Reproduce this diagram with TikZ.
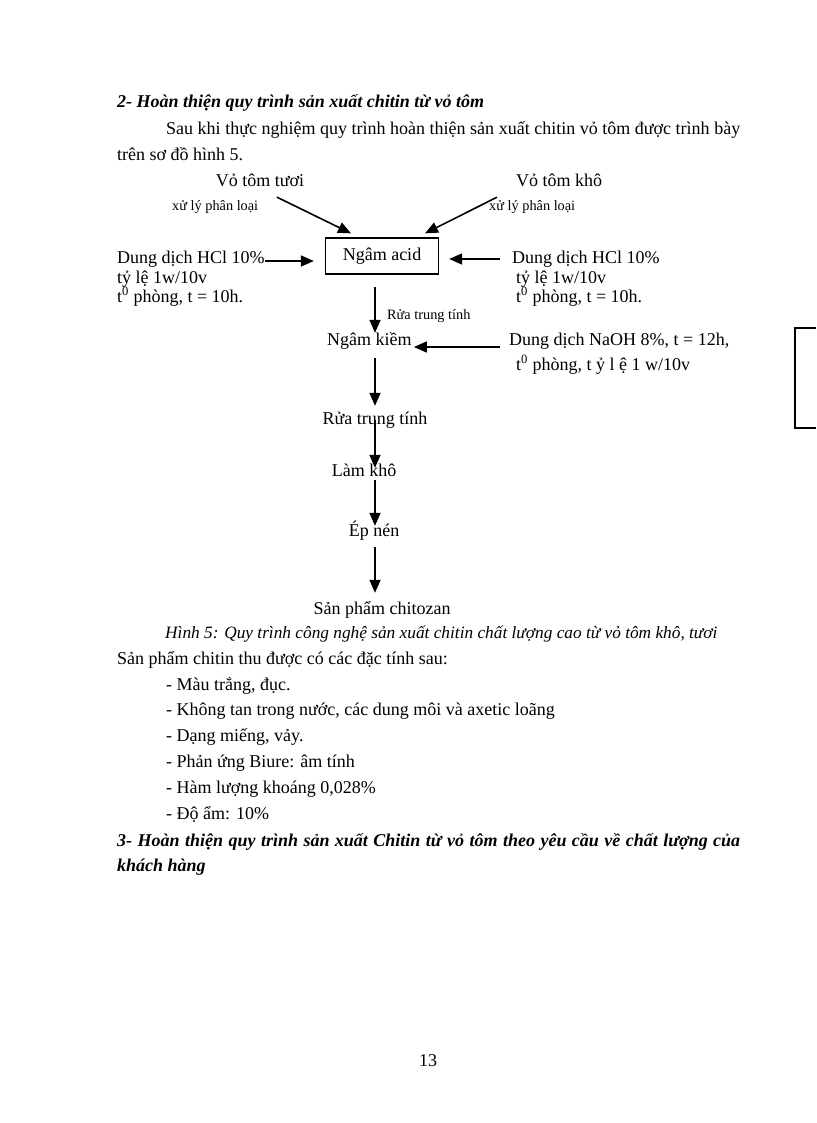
\documentclass[tikz,border=0pt]{standalone}
\usepackage{fontspec}
\setmainfont{Liberation Serif}
\usetikzlibrary{arrows.meta}
\newcommand{\chuthuong}{\fontsize{18}{21}\selectfont}
\newcommand{\chunho}{\fontsize{14.3}{17}\selectfont}
\newcommand{\chuhinh}{\fontsize{17.3}{20}\selectfont\itshape}

\begin{document}
\begin{tikzpicture}[x=1pt, y=-1pt,
    txt/.style={anchor=west, inner sep=0pt, font=\chuthuong, text height=12pt, text depth=4pt},
    ctxt/.style={txt, anchor=center},
    ghichu/.style={txt, font=\chunho, text height=9pt, text depth=3pt},
    dam/.style={txt, font=\chuthuong\bfseries\itshape},
    flow/.style={-{Triangle[length=13pt, width=11pt]}, line width=1.6pt}]
    \useasboundingbox (0,0) rectangle (816,1123);
    \fill[white] (0,0) rectangle (816,1123);

    % Đầu mục
    \node[dam] (tieude) at (117,104) {2- Hoàn thiện quy trình sản xuất chitin từ vỏ tôm};
    \node[txt] (doan1) at (166,131) {\makebox[574pt][s]{Sau khi thực nghiệm quy trình hoàn thiện sản xuất chitin vỏ tôm được trình bày}};
    \node[txt] (doan2) at (117,157) {trên sơ đồ hình 5.};

    % Nguyên liệu
    \node[ctxt] (tuoi) at (260,183) {Vỏ tôm tươi};
    \node[ctxt] (kho) at (559,183) {Vỏ tôm khô};
    \node[ghichu] (xuly1) at (172,208) {xử lý phân loại};
    \node[ghichu] (xuly2) at (489,208) {xử lý phân loại};

    % Ngâm acid
    \node[ctxt, draw, line width=1.3pt, minimum width=113pt, minimum height=36pt] (acid) at (382,256) {Ngâm acid};
    \coordinate (truc) at (375,0);

    \node[txt] (hcltrai) at (117,259) {Dung dịch HCl 10\%};
    \node[txt] (hcltrai2) at (117,279) {tỷ lệ 1w/10v};
    \node[txt] (hcltrai3) at (117,298) {t\textsuperscript{0} phòng, t = 10h.};
    \node[txt] (hclphai) at (512,259) {Dung dịch HCl 10\%};
    \node[txt] (hclphai2) at (516,279) {tỷ lệ 1w/10v};
    \node[txt] (hclphai3) at (516,298) {t\textsuperscript{0} phòng, t = 10h.};

    \draw[flow] ([xshift=17pt, yshift=-6pt]tuoi.south) -- ([xshift=-31pt, yshift=4pt]acid.north);
    \draw[flow] ([xshift=-62pt, yshift=-6pt]kho.south) -- ([xshift=43pt, yshift=4pt]acid.north);
    \draw[flow, shorten >=11pt] ([yshift=-2pt]hcltrai.east) -- ([yshift=-2pt]hcltrai.east -| acid.west);
    \draw[flow, shorten <=12pt, shorten >=10pt] (hclphai.west) -- (hclphai.west -| acid.east);

    % Ngâm kiềm
    \node[ghichu] (rua1) at (387,316) {Rửa trung tính};
    \node[txt] (kiem) at (327,341) {Ngâm kiềm};
    \node[txt] (naoh) at (509,341) {Dung dịch NaOH 8\%, t = 12h,};
    \node[txt] (naoh2) at (516,366) {t\textsuperscript{0} phòng, t ỷ l ệ 1 w/10v};
    \draw[flow, shorten <=12pt] (acid.south -| truc) -- (kiem.north -| truc);
    \draw[flow, shorten <=9pt, shorten >=2pt] ([yshift=-6pt]naoh.west) -- ([yshift=-6pt]kiem.east);

    % Các bước sau
    \node[ctxt] (rua) at (375,420) {Rửa trung tính};
    \node[ctxt] (lamkho) at (364,472) {Làm khô};
    \node[ctxt] (epnen) at (374,532) {Ép nén};
    \node[ctxt] (sanpham) at (382,610) {Sản phẩm chitozan};
    \draw[flow, shorten <=9pt, shorten >=6pt] (kiem.south -| truc) -- (rua.north -| truc);
    \draw[flow, shorten >=-4pt] (rua.center -| truc) -- (lamkho.north -| truc);
    \draw[flow, shorten >=-2pt] (lamkho.south -| truc) -- (epnen.north -| truc);
    \draw[flow, shorten <=7pt, shorten >=9pt] (epnen.south -| truc) -- (sanpham.north -| truc);

    % Chú thích hình
    \node[txt, font=\chuhinh] (hinh5) at (165,634) {Hình 5: Quy trình công nghệ sản xuất chitin chất lượng cao từ vỏ tôm khô, tươi};
    \node[txt] (dactinh) at (117,660) {Sản phẩm chitin thu được có các đặc tính sau:};
    \node[txt] (dt1) at (166,686) {- Màu trắng, đục.};
    \node[txt] (dt2) at (166,711) {- Không tan trong nước, các dung môi và axetic loãng};
    \node[txt] (dt3) at (166,737) {- Dạng miếng, vảy.};
    \node[txt] (dt4) at (166,763) {- Phản ứng Biure: âm tính};
    \node[txt] (dt5) at (166,789) {- Hàm lượng khoáng 0,028\%};
    \node[txt] (dt6) at (166,815) {- Độ ẩm: 10\%};
    \node[dam] (tieude3) at (117,842) {\makebox[623pt][s]{3- Hoàn thiện quy trình sản xuất Chitin từ vỏ tôm theo yêu cầu về chất lượng của}};
    \node[dam] (tieude3b) at (117,867) {khách hàng};

    % Lề phải, số trang
    \draw[line width=1.5pt] (816,328) -- (795,328) -- (795,428) -- (816,428);
    \node[ctxt] (trang) at (428,1062) {13};
\end{tikzpicture}
\end{document}
